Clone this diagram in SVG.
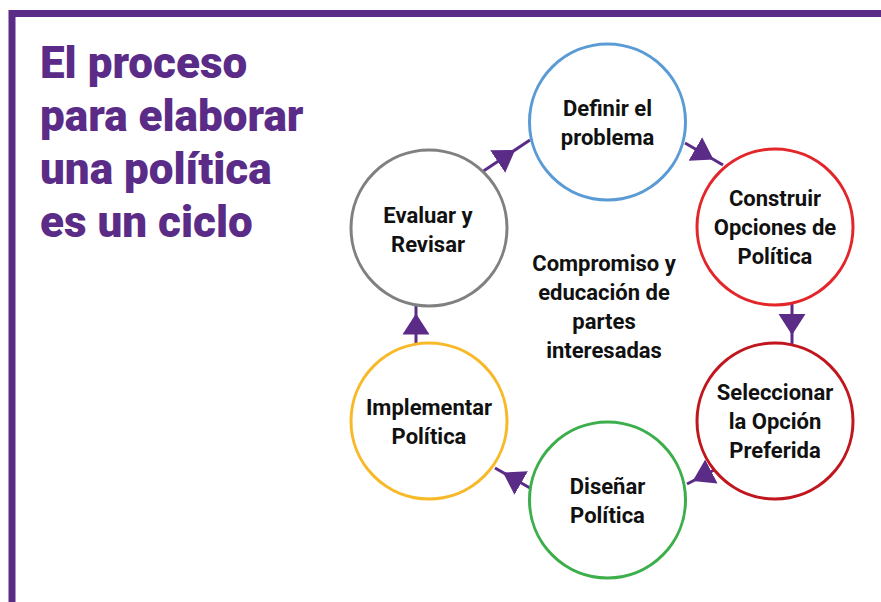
<svg xmlns="http://www.w3.org/2000/svg" width="881" height="602" viewBox="0 0 881 602">
<defs>
<style>
.title{font-family:Roboto,"Liberation Sans",sans-serif;font-weight:900;font-size:44px;fill:#5b2c87}
.lbl{font-family:Roboto,"Liberation Sans",sans-serif;font-weight:700;font-size:22px;fill:#111;text-anchor:middle}
.node{fill:#fff;stroke-width:3}
.conn{stroke:#5b2c87;stroke-width:3;fill:none;marker-mid:url(#ah)}
</style>
<marker id="ah" markerUnits="userSpaceOnUse" markerWidth="22" markerHeight="28" refX="10" refY="13.5" orient="auto" viewBox="0 0 22 27">
<path d="M0,0 L21,13.5 L0,27 Z" fill="#5b2c87"/>
</marker>
</defs>
<rect width="881" height="602" fill="#fff"/>
<path d="M12,602 L12,13.5 L881,13.5" fill="none" stroke="#5b2c87" stroke-width="7"/>
<g id="title">
<text class="title" x="40" y="78">El proceso</text>
<text class="title" x="40" y="131">para elaborar</text>
<text class="title" x="40" y="184">una política</text>
<text class="title" x="40" y="237">es un ciclo</text>
</g>
<g id="connectors">
<polyline class="conn" points="482,172 506,156 530,140"/>
<polyline class="conn" points="685,143 704,154 723,165"/>
<polyline class="conn" points="792,303 792,324 792,345"/>
<polyline class="conn" points="718,468 702.5,476 687,484"/>
<polyline class="conn" points="530,488 512.5,478 495,468"/>
<polyline class="conn" points="416,344 416,324.5 416,305"/>
</g>
<g id="definir">
<circle class="node" cx="607.5" cy="122" r="78" stroke="#5b9bd5"/>
<text class="lbl" x="607.5" y="115.5">Definir el</text>
<text class="lbl" x="607.5" y="144.5">problema</text>
</g>
<g id="construir">
<circle class="node" cx="775" cy="227" r="78" stroke="#e3262a"/>
<text class="lbl" x="775" y="206">Construir</text>
<text class="lbl" x="775" y="235">Opciones de</text>
<text class="lbl" x="775" y="264">Política</text>
</g>
<g id="seleccionar">
<circle class="node" cx="775" cy="421" r="78" stroke="#c0161d"/>
<text class="lbl" x="775" y="400">Seleccionar</text>
<text class="lbl" x="775" y="429">la Opción</text>
<text class="lbl" x="775" y="458">Preferida</text>
</g>
<g id="disenar">
<circle class="node" cx="607.5" cy="500" r="78" stroke="#3cae4c"/>
<text class="lbl" x="607.5" y="493.5">Diseñar</text>
<text class="lbl" x="607.5" y="522.5">Política</text>
</g>
<g id="implementar">
<circle class="node" cx="429" cy="421" r="78" stroke="#f7b928"/>
<text class="lbl" x="429" y="414.5">Implementar</text>
<text class="lbl" x="429" y="443.5">Política</text>
</g>
<g id="evaluar">
<circle class="node" cx="429" cy="228" r="78" stroke="#808080"/>
<text class="lbl" x="428" y="222.5">Evaluar y</text>
<text class="lbl" x="428" y="251.5">Revisar</text>
</g>
<g id="centro">
<text class="lbl" x="604" y="270.5">Compromiso y</text>
<text class="lbl" x="604" y="299.5">educación de</text>
<text class="lbl" x="604" y="328.5">partes</text>
<text class="lbl" x="604" y="357.5">interesadas</text>
</g>
</svg>
